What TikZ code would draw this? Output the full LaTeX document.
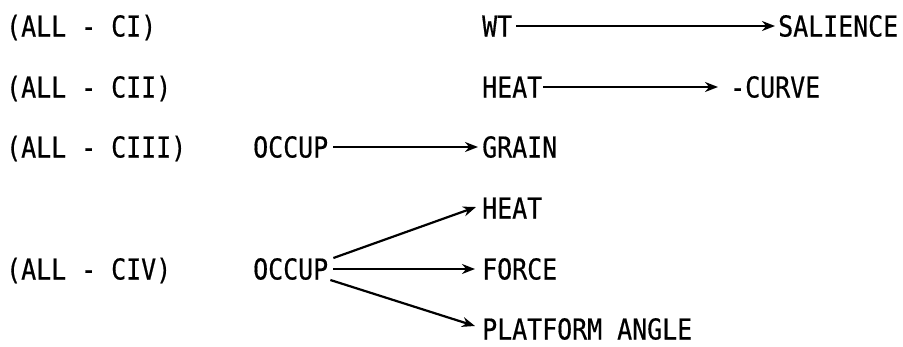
\documentclass[tikz,border=0pt]{standalone}
\usepackage{fontspec}
\newfontfamily\lpfont[FakeStretch=0.865,FakeBold=0.5]{DejaVu Sans Mono}
\usetikzlibrary{arrows.meta}
\begin{document}
\begin{tikzpicture}[x=1pt,y=-1pt,
  lbl/.style={anchor=west,inner xsep=0pt,inner ysep=0pt,text height=21pt,text depth=0pt,
    font=\lpfont\fontsize{28.8pt}{31pt}\selectfont},
  arr/.style={line width=2.2pt,-{Stealth[length=13pt,width=10pt]}}]
\useasboundingbox (0,0) rectangle (903,346);
\node[lbl] (c1) at (6,26) {(ALL - CI)};
\node[lbl] (c2) at (6,87) {(ALL - CII)};
\node[lbl] (c3) at (6,147) {(ALL - CIII)};
\node[lbl] (c4) at (6,269) {(ALL - CIV)};
\node[lbl] (wt) at (482,26) {WT};
\node[lbl] (sal) at (778,26) {SALIENCE};
\node[lbl] (heat1) at (482,87) {HEAT};
\node[lbl] (curve) at (730,87) {-CURVE};
\node[lbl] (occ1) at (253,147) {OCCUP};
\node[lbl] (grain) at (482,147) {GRAIN};
\node[lbl] (heat2) at (482,208) {HEAT};
\node[lbl] (occ2) at (253,269) {OCCUP};
\node[lbl] (force) at (482,269) {FORCE};
\node[lbl] (plat) at (482,329) {PLATFORM ANGLE};
\draw[arr,shorten <=4pt,shorten >=3pt] (wt.east) -- (sal.west);
\draw[arr,shorten <=1pt,shorten >=12pt] (heat1.east) -- (curve.west);
\draw[arr,shorten <=5pt,shorten >=4pt] (occ1.east) -- (grain.west);
\draw[arr] ([shift={(5,-11)}]occ2.east) -- ([shift={(-6,-1)}]heat2.west);
\draw[arr] ([shift={(5,0)}]occ2.east) -- ([shift={(-7,0)}]force.west);
\draw[arr] ([shift={(2,11)}]occ2.east) -- ([shift={(-7,-3)}]plat.west);
\end{tikzpicture}
\end{document}
